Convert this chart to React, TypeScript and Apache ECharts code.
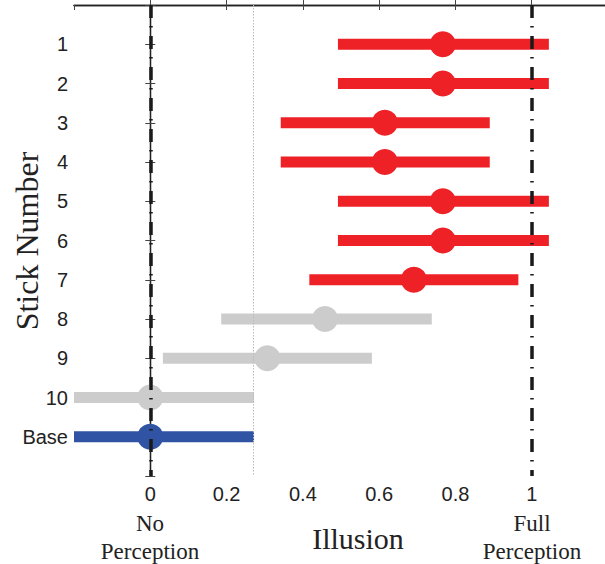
import React, { useEffect, useRef } from "react";
import * as echarts from "echarts";

const rowLabels = ["1", "2", "3", "4", "5", "6", "7", "8", "9", "10", "Base"];
const rowPositions = [1, 2, 3, 4, 5, 6, 7, 8, 9, 10, 11];
const means = [0.767, 0.767, 0.615, 0.615, 0.767, 0.767, 0.691, 0.458, 0.307, 0, 0];
const lows = [0.492, 0.492, 0.342, 0.342, 0.492, 0.492, 0.417, 0.186, 0.033, -0.272, -0.272];
const highs = [1.045, 1.045, 0.89, 0.89, 1.045, 1.045, 0.965, 0.738, 0.581, 0.272, 0.272];
const groups = ["red", "red", "red", "red", "red", "red", "red", "gray", "gray", "gray", "blue"];
const xTicks = [-0.2, 0, 0.2, 0.4, 0.6, 0.8, 1, 1.2];
const refLines = [0, 1];
const baseRef = 0.274;

const palette: Record<string, string> = {
  red: "#EE2127",
  gray: "#CCCCCD",
  blue: "#3053A3",
};

const serif = "'Liberation Serif', 'Times New Roman', serif";
const sans = "'Liberation Sans', Arial, sans-serif";

export default function App() {
  const ref = useRef<HTMLDivElement>(null);
  useEffect(() => {
    if (!ref.current) return;
    const chart = echarts.init(ref.current, undefined, { renderer: "svg" });
    const barData = rowPositions.map((r, i) => [lows[i], highs[i], r, i]);
    const pointData = rowPositions.map((r, i) => ({
      value: [means[i], r],
      itemStyle: { color: palette[groups[i]], opacity: 1 },
    }));
    const axisColor = "#222";
    const option: any = {
      animation: false,
      backgroundColor: "#fff",
      grid: { left: 74, top: 5, right: 2, bottom: 88, containLabel: false },
      xAxis: [
        {
          type: "value",
          position: "bottom",
          min: xTicks[0],
          max: xTicks[xTicks.length - 1],
          interval: 0.2,
          axisLine: { show: true, lineStyle: { color: axisColor, width: 1.3 } },
          axisTick: { show: true, inside: true, length: 5, lineStyle: { color: "#444", width: 1 } },
          splitLine: { show: false },
          axisLabel: {
            margin: 8,
            color: "#222",
            fontFamily: sans,
            fontSize: 20,
            showMinLabel: false,
            showMaxLabel: false,
            formatter: (v: number) => {
              if (v < -0.01 || v > 1.01) return "";
              return String(parseFloat(v.toFixed(1)));
            },
          },
        },
        {
          type: "value",
          position: "top",
          min: xTicks[0],
          max: xTicks[xTicks.length - 1],
          interval: 0.2,
          axisLine: { show: true, lineStyle: { color: axisColor, width: 1.3 } },
          axisTick: { show: true, inside: true, length: 5, lineStyle: { color: "#444", width: 1 } },
          splitLine: { show: false },
          axisLabel: { show: false },
        },
      ],
      yAxis: [
        {
          type: "value",
          position: "left",
          min: 0,
          max: 12,
          interval: 1,
          inverse: true,
          axisLine: { show: true, lineStyle: { color: axisColor, width: 1.3 } },
          axisTick: { show: true, inside: true, length: 5, lineStyle: { color: "#444", width: 1 } },
          splitLine: { show: false },
          axisLabel: {
            margin: 6,
            color: "#222",
            fontFamily: sans,
            fontSize: 20,
            formatter: (v: number) => {
              const idx = rowPositions.indexOf(Math.round(v));
              return idx >= 0 ? rowLabels[idx] : "";
            },
          },
        },
        {
          type: "value",
          position: "right",
          min: 0,
          max: 12,
          interval: 1,
          inverse: true,
          axisLine: { show: true, lineStyle: { color: axisColor, width: 1.3 } },
          axisTick: { show: true, inside: true, length: 5, lineStyle: { color: "#444", width: 1 } },
          splitLine: { show: false },
          axisLabel: { show: false },
        },
      ],
      series: [
        {
          type: "custom",
          xAxisIndex: 0,
          yAxisIndex: 0,
          z: 2,
          data: barData,
          renderItem: (params: any, api: any) => {
            const lo = api.value(0);
            const hi = api.value(1);
            const r = api.value(2);
            const idx = api.value(3);
            const p1 = api.coord([lo, r]);
            const p2 = api.coord([hi, r]);
            const cs = params.coordSys;
            const x1 = Math.max(p1[0], cs.x);
            const x2 = Math.min(p2[0], cs.x + cs.width);
            return {
              type: "line",
              shape: { x1, y1: p1[1], x2, y2: p2[1] },
              style: { stroke: palette[groups[idx]], lineWidth: 11, lineCap: "butt" },
            };
          },
        },
        {
          type: "scatter",
          xAxisIndex: 0,
          yAxisIndex: 0,
          z: 3,
          symbol: "circle",
          symbolSize: 26,
          itemStyle: { opacity: 1 },
          data: pointData,
        },
        {
          type: "line",
          xAxisIndex: 0,
          yAxisIndex: 0,
          data: [],
          z: 1,
          markLine: {
            silent: true,
            symbol: ["none", "none"],
            label: { show: false },
            lineStyle: { color: "#bbbbbb", width: 1, type: [1.5, 1.5] },
            data: [{ xAxis: baseRef }],
          },
        },
        {
          type: "line",
          xAxisIndex: 0,
          yAxisIndex: 0,
          data: [],
          z: 10,
          markLine: {
            silent: true,
            z: 10,
            symbol: ["none", "none"],
            label: { show: false },
            lineStyle: { color: "#1a1a1a", width: 3.5, type: [13, 8, 1.5, 8.5] },
            data: refLines.map((v) => ({ xAxis: v })),
          },
        },
      ],
      graphic: [
        {
          type: "text",
          x: 27,
          y: 241,
          rotation: Math.PI / 2,
          style: {
            text: "Stick Number",
            font: `32px ${serif}`,
            fill: "#222",
            align: "center",
            verticalAlign: "middle",
          },
        },
        {
          type: "text",
          x: 150,
          y: 537,
          style: {
            text: "No\nPerception",
            font: `23px ${serif}`,
            lineHeight: 28,
            fill: "#222",
            align: "center",
            verticalAlign: "middle",
          },
        },
        {
          type: "text",
          x: 358,
          y: 538,
          style: {
            text: "Illusion",
            font: `30px ${serif}`,
            fill: "#222",
            align: "center",
            verticalAlign: "middle",
          },
        },
        {
          type: "text",
          x: 532,
          y: 537,
          style: {
            text: "Full\nPerception",
            font: `23px ${serif}`,
            lineHeight: 28,
            fill: "#222",
            align: "center",
            verticalAlign: "middle",
          },
        },
      ],
    };
    chart.setOption(option);
    return () => chart.dispose();
  }, []);
  return (
    <div
      style={{
        position: "fixed",
        left: 0,
        top: 0,
        width: 605,
        height: 564,
        overflow: "hidden",
      }}
    >
      <div ref={ref} style={{ width: 610, height: 564 }} />
    </div>
  );
}
